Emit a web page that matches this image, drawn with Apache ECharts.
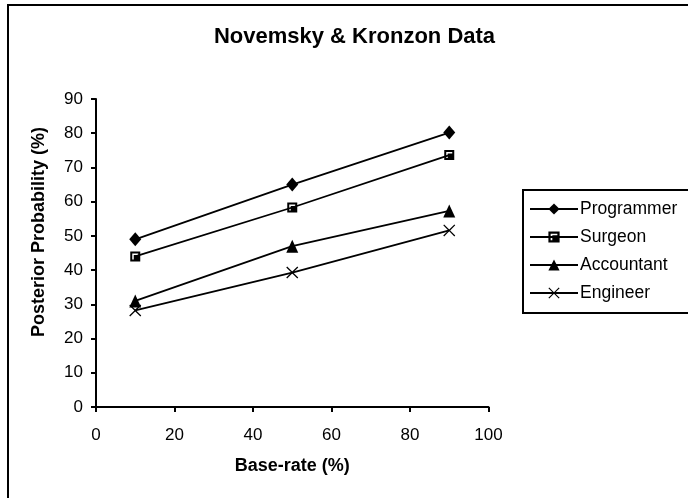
<!DOCTYPE html>
<html>
<head>
<meta charset="utf-8">
<script src="https://cdn.jsdelivr.net/npm/echarts@6/dist/echarts.min.js"></script>
<style>
  html, body { margin: 0; padding: 0; background: #fff; }
  #chart { width: 688px; height: 498px; }
</style>
</head>
<body>
<div id="chart"></div>
<script>
// Base-rate levels (x) and posterior estimates for each profession
const baseRates = [10, 50, 90];
const programmer = [49, 65, 80.2];
const surgeon = [44, 58.3, 73.6];
const accountant = [31, 47, 57.3];
const engineer = [28.2, 39.3, 51.6];

const xTicks = { min: 0, max: 100, step: 20 };
const yTicks = { min: 0, max: 90, step: 10 };

const FONT = '"Liberation Sans", Arial, sans-serif';

// Excel-style marker shapes
const squareMark = 'path://M0 0H10V10H0Z M2 2V8H3.5V3.5H8V2Z';
const crossMark = 'path://M0,0.9 L0.9,0 L6,5.1 L11.1,0 L12,0.9 L6.9,6 L12,11.1 L11.1,12 L6,6.9 L0.9,12 L0,11.1 L5.1,6 Z';

function pairs(vals) {
  return baseRates.map((x, i) => [x, vals[i]]);
}

function lineSeries(name, vals, symbol, size) {
  return {
    name: name,
    type: 'line',
    data: pairs(vals),
    symbol: symbol,
    symbolSize: size,
    showAllSymbol: true,
    lineStyle: { color: '#000', width: 1.8 },
    itemStyle: { color: '#000', borderWidth: 0 },
    emphasis: { disabled: true },
    z: 3
  };
}

const chart = echarts.init(document.getElementById('chart'), null, { renderer: 'canvas' });

chart.setOption({
  animation: false,
  backgroundColor: '#fff',
  textStyle: { fontFamily: FONT, color: '#000' },
  grid: { left: 96, right: 199.5, top: 99, bottom: 91, containLabel: false },
  xAxis: {
    type: 'value',
    min: xTicks.min,
    max: xTicks.max,
    interval: xTicks.step,
    name: 'Base-rate (%)',
    nameLocation: 'middle',
    nameGap: 50,
    nameTextStyle: { fontFamily: FONT, fontSize: 18, fontWeight: 'bold', color: '#000' },
    axisLine: { onZero: false, lineStyle: { color: '#000', width: 2 } },
    axisTick: { show: true, inside: false, length: 5, lineStyle: { color: '#000', width: 2 } },
    axisLabel: { fontFamily: FONT, fontSize: 17, color: '#000', margin: 20 },
    splitLine: { show: false }
  },
  yAxis: {
    type: 'value',
    min: yTicks.min,
    max: yTicks.max,
    interval: yTicks.step,
    axisLine: { show: true, lineStyle: { color: '#000', width: 2 } },
    axisTick: { show: true, inside: false, length: 5, lineStyle: { color: '#000', width: 2 } },
    axisLabel: { fontFamily: FONT, fontSize: 17, color: '#000', margin: 13 },
    splitLine: { show: false }
  },
  legend: {
    orient: 'vertical',
    left: 523,
    top: 190,
    padding: [10, 12, 11, 6],
    itemWidth: 48,
    itemHeight: 14,
    itemGap: 10,
    borderColor: '#000',
    borderWidth: 2,
    borderRadius: 0,
    backgroundColor: '#fff',
    textStyle: { fontFamily: FONT, fontSize: 17.5, color: '#000', padding: [0, 0, 0, -3] },
    data: ['Programmer', 'Surgeon', 'Accountant', 'Engineer']
  },
  graphic: [
    {
      type: 'rect',
      shape: { x: 8, y: 5, width: 720, height: 540 },
      style: { fill: null, stroke: '#000', lineWidth: 2 },
      silent: true,
      z: -10
    },
    {
      type: 'text',
      x: 354.5,
      y: 37,
      style: {
        text: 'Novemsky & Kronzon Data',
        font: 'bold 22px ' + FONT,
        fill: '#000',
        textAlign: 'center',
        textVerticalAlign: 'middle'
      }
    },
    {
      type: 'text',
      x: 39,
      y: 232,
      rotation: Math.PI / 2,
      style: {
        text: 'Posterior Probability (%)',
        font: 'bold 18px ' + FONT,
        fill: '#000',
        textAlign: 'center',
        textVerticalAlign: 'middle'
      }
    }
  ],
  series: [
    lineSeries('Programmer', programmer, 'diamond', [12, 14]),
    lineSeries('Surgeon', surgeon, squareMark, [10, 10]),
    lineSeries('Accountant', accountant, 'triangle', [12, 13]),
    lineSeries('Engineer', engineer, crossMark, [12, 12])
  ]
});
</script>
</body>
</html>
